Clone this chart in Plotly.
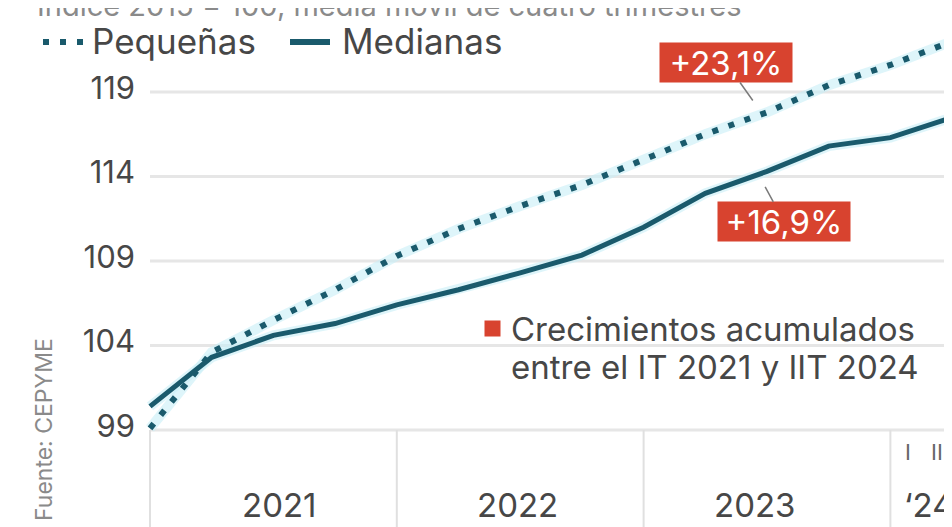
import plotly.graph_objects as go

# Quarterly index (2015 = 100), four-quarter moving average
quarters = ["I 2021", "II 2021", "III 2021", "IV 2021",
            "I 2022", "II 2022", "III 2022", "IV 2022",
            "I 2023", "II 2023", "III 2023", "IV 2023",
            "I 2024", "II 2024"]
pequenas = [99.1, 103.6, 105.5, 107.3, 109.3, 110.9, 112.25,
            113.5, 115.0, 116.5, 117.8, 119.4, 120.6, 122.0]
medianas = [100.4, 103.3, 104.6, 105.3, 106.4, 107.3, 108.3,
            109.35, 111.0, 113.0, 114.3, 115.8, 116.3, 117.5]
y_ticks = [99, 104, 109, 114, 119]
years = ["2021", "2022", "2023", "\u201824"]
year_starts = [0, 4, 8, 12]
year_label_x = [2.1, 5.95, 9.8, 12.19]
sub_ticks = ["I", "II"]
sub_tick_x = [12.29, 12.76]
growth = ["+23,1%", "+16,9%"]

W, H = 952, 527
OFF = 8             # page body margin: the figure sits 8px in from the top-left corner
PLOT_LEFT = 140     # screen px
Q = 61.7            # px per quarter
YPX = 16.9          # px per index point
X_MIN = -10 / Q
X_MAX = X_MIN + (W - (PLOT_LEFT - OFF)) / Q
Y_MAX = 99 + (430 - OFF) / YPX
Y_MIN = 99 - (H + OFF - 430) / YPX

TEAL = "#1a5a6c"
HALO = "rgba(200,238,246,0.6)"
RED = "#d8432f"
GRAY = "#474747"
LIGHT = "#8a8a8a"
GRID = "#e6e6e6"
FONT = "Inter"


def px(s):
    return (s - OFF) / W


def py(s):
    return 1 - (s - OFF) / H


x = list(range(len(quarters)))

fig = go.Figure()

# soft halo under both lines
fig.add_trace(go.Scatter(x=x, y=pequenas, mode="lines", line=dict(color=HALO, width=10),
                         showlegend=False, hoverinfo="skip"))
fig.add_trace(go.Scatter(x=x, y=medianas, mode="lines", line=dict(color=HALO, width=10),
                         showlegend=False, hoverinfo="skip"))

fig.add_trace(go.Scatter(x=x, y=pequenas, mode="lines", name="Pequeñas", text=quarters,
                         line=dict(color=TEAL, width=6, dash="6px,11px")))
fig.add_trace(go.Scatter(x=x, y=medianas, mode="lines", name="Medianas", text=quarters,
                         line=dict(color=TEAL, width=5)))

shapes = []
# horizontal gridlines
for t in y_ticks:
    shapes.append(dict(type="line", xref="x", yref="y", x0=0, x1=12.9, y0=t, y1=t,
                       line=dict(color=GRID, width=3), layer="below"))
# year separators under the baseline
for s in year_starts:
    shapes.append(dict(type="line", xref="x", yref="y", x0=s, x1=s, y0=99, y1=Y_MIN,
                       line=dict(color="#e0e0e0", width=2), layer="below"))
# legend swatches
shapes.append(dict(type="line", xref="paper", yref="paper", x0=px(43), x1=px(83),
                   y0=py(42), y1=py(42), line=dict(color=TEAL, width=6, dash="6px,11px")))
shapes.append(dict(type="line", xref="paper", yref="paper", x0=px(290), x1=px(330),
                   y0=py(42), y1=py(42), line=dict(color=TEAL, width=6)))

annotations = []
# subtitle, cut at the top edge
annotations.append(dict(text="Índice 2015 = 100, media móvil de cuatro trimestres",
                        xref="paper", yref="paper", x=px(35), y=py(6),
                        xanchor="left", yanchor="middle", showarrow=False,
                        font=dict(family=FONT, size=29, color=LIGHT)))
# legend texts
annotations.append(dict(text="Pequeñas", xref="paper", yref="paper", x=px(90), y=py(41),
                        xanchor="left", yanchor="middle", showarrow=False,
                        font=dict(family=FONT, size=35, color=GRAY)))
annotations.append(dict(text="Medianas", xref="paper", yref="paper", x=px(340), y=py(41),
                        xanchor="left", yanchor="middle", showarrow=False,
                        font=dict(family=FONT, size=35, color=GRAY)))
# source
annotations.append(dict(text="Fuente: CEPYME", xref="paper", yref="paper", x=px(44), y=py(430),
                        xanchor="center", yanchor="middle", textangle=-90, showarrow=False,
                        font=dict(family=FONT, size=23, color=LIGHT)))
# growth labels with leaders
annotations.append(dict(text=growth[0], x=9.77, y=118.5, ax=-27, ay=-38,
                        showarrow=True, arrowhead=0, arrowwidth=1.5, arrowcolor="#7a7a7a",
                        bgcolor=RED, width=128, height=35, borderpad=2,
                        font=dict(family=FONT, size=33, color="white")))
annotations.append(dict(text=growth[1], x=9.97, y=113.38, ax=19, ay=35,
                        showarrow=True, arrowhead=0, arrowwidth=1.5, arrowcolor="#7a7a7a",
                        bgcolor=RED, width=128, height=35, borderpad=2,
                        font=dict(family=FONT, size=33, color="white")))
# note with red key
annotations.append(dict(text=" ", xref="paper", yref="paper", x=px(493), y=py(328),
                        showarrow=False, bgcolor=RED, width=15, height=15, borderpad=0,
                        font=dict(size=4)))
annotations.append(dict(text="Crecimientos acumulados", xref="paper", yref="paper",
                        x=px(509), y=py(329), xanchor="left", yanchor="middle", showarrow=False,
                        font=dict(family=FONT, size=33, color=GRAY)))
annotations.append(dict(text="entre el IT 2021 y IIT 2024", xref="paper", yref="paper",
                        x=px(509), y=py(367), xanchor="left", yanchor="middle", showarrow=False,
                        font=dict(family=FONT, size=33, color=GRAY)))
# year labels
for i, (lab, xx) in enumerate(zip(years, year_label_x)):
    annotations.append(dict(text=lab, xref="x", yref="paper", x=xx, y=py(505),
                            xanchor="left" if i == len(years) - 1 else "center",
                            yanchor="middle", showarrow=False,
                            font=dict(family=FONT, size=33, color=GRAY)))
for lab, xx in zip(sub_ticks, sub_tick_x):
    annotations.append(dict(text=lab, xref="x", yref="paper", x=xx, y=py(452),
                            xanchor="center", yanchor="middle", showarrow=False,
                            font=dict(family=FONT, size=22, color="#666666")))

fig.update_layout(
    width=W, height=H,
    margin=dict(l=0, r=0, t=0, b=0),
    paper_bgcolor="white", plot_bgcolor="white",
    showlegend=False,
    shapes=shapes,
    annotations=annotations,
    xaxis=dict(domain=[(PLOT_LEFT - OFF) / W, 1], range=[X_MIN, X_MAX], visible=False),
    yaxis=dict(range=[Y_MIN, Y_MAX], tickvals=y_ticks, showgrid=False, zeroline=False,
               showline=False, ticks="", ticklabelstandoff=4, ticklabelshift=-4,
               tickfont=dict(family=FONT, size=31, color=GRAY)),
)

fig.write_html("out.html")
